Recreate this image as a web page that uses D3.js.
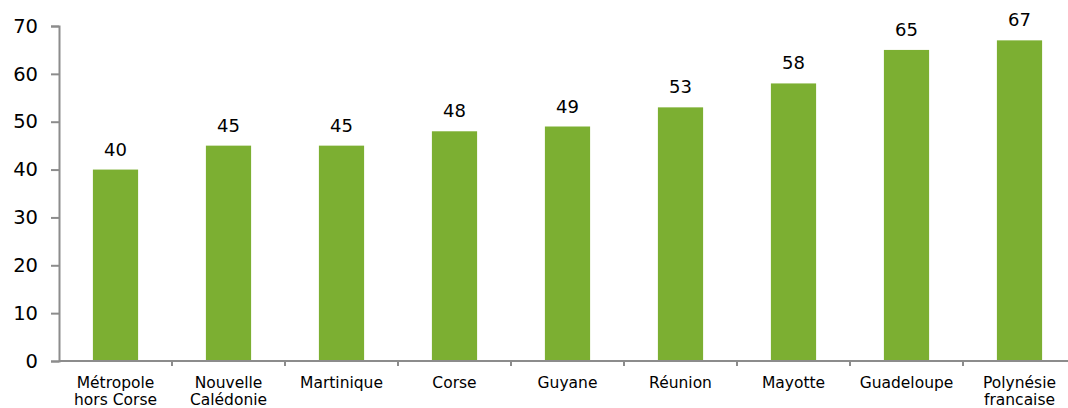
<!DOCTYPE html>
<html>
<head>
<meta charset="utf-8">
<script src="https://cdn.jsdelivr.net/npm/d3@7"></script>
<style>
  body { margin: 0; background: #fff; }
  svg text { font-family: Verdana, "DejaVu Sans", sans-serif; fill: #000; }
</style>
</head>
<body>
<div id="chart"></div>
<script>
// data
var categories = ["Métropole hors Corse", "Nouvelle Calédonie", "Martinique", "Corse",
                  "Guyane", "Réunion", "Mayotte", "Guadeloupe", "Polynésie francaise"];
var tickLabels = [["Métropole", "hors Corse"], ["Nouvelle", "Calédonie"], ["Martinique"], ["Corse"],
                  ["Guyane"], ["Réunion"], ["Mayotte"], ["Guadeloupe"], ["Polynésie", "francaise"]];
var values = [40, 45, 45, 48, 49, 53, 58, 65, 67];
var yTicks = [0, 10, 20, 30, 40, 50, 60, 70];

var svgWidth = 1068;
var svgHeight = 408;

var margin = { top: 26, left: 59 };
var plotRight = 1076;   // the last category runs past the frame
var plotBottom = 361;

var svg = d3.select("#chart").append("svg")
    .attr("width", svgWidth)
    .attr("height", svgHeight);

// scales
var x = d3.scaleBand()
    .domain(categories)
    .range([margin.left, plotRight])
    .paddingInner(0.6)
    .paddingOuter(0.3);

var y = d3.scaleLinear()
    .domain([0, 70])
    .range([plotBottom, margin.top]);

var axisColor = "#8c8c8c";

// y axis
var yAxis = svg.append("g")
    .attr("transform", `translate(${margin.left},0)`)
    .call(d3.axisLeft(y).tickValues(yTicks).tickSize(8).tickPadding(13));

yAxis.select(".domain").attr("stroke", axisColor).attr("stroke-width", 2);
yAxis.selectAll(".tick line").attr("stroke", axisColor).attr("stroke-width", 2);
yAxis.selectAll(".tick text")
    .style("font-size", "19.5px")
    .attr("fill", "#000");

// bars
svg.selectAll("rect.bar")
    .data(values)
    .enter()
    .append("rect")
    .attr("class", "bar")
    .attr("x", (d, i) => x(categories[i]))
    .attr("y", d => y(d))
    .attr("width", x.bandwidth())
    .attr("height", d => y(0) - y(d))
    .attr("fill", "#7caf32");

// value labels
svg.selectAll("text.value")
    .data(values)
    .enter()
    .append("text")
    .attr("class", "value")
    .attr("x", (d, i) => x(categories[i]) + x.bandwidth() / 2)
    .attr("y", d => y(d) - 14)
    .attr("text-anchor", "middle")
    .style("font-size", "18px")
    .text(d => d);

// x axis: line plus ticks on category boundaries
var step = x.step();
var boundaries = categories.map(c => x(c) - step * 0.3);

var xAxis = svg.append("g");
xAxis.append("line")
    .attr("x1", margin.left).attr("x2", svgWidth)
    .attr("y1", y(0)).attr("y2", y(0))
    .attr("stroke", axisColor).attr("stroke-width", 2);

xAxis.selectAll("line.tick")
    .data(boundaries.slice(1))
    .enter()
    .append("line")
    .attr("class", "tick")
    .attr("x1", d => d).attr("x2", d => d)
    .attr("y1", y(0)).attr("y2", y(0) + 5)
    .attr("stroke", axisColor).attr("stroke-width", 2);

var labels = xAxis.selectAll("text.cat")
    .data(tickLabels)
    .enter()
    .append("text")
    .attr("class", "cat")
    .attr("text-anchor", "middle")
    .style("font-size", "15.5px")
    .attr("transform", (d, i) => `translate(${x(categories[i]) + x.bandwidth() / 2}, ${y(0) + 27})`);

labels.selectAll("tspan")
    .data(d => d)
    .enter()
    .append("tspan")
    .attr("x", 0)
    .attr("y", (d, i) => i * 17)
    .text(d => d);
</script>
</body>
</html>
